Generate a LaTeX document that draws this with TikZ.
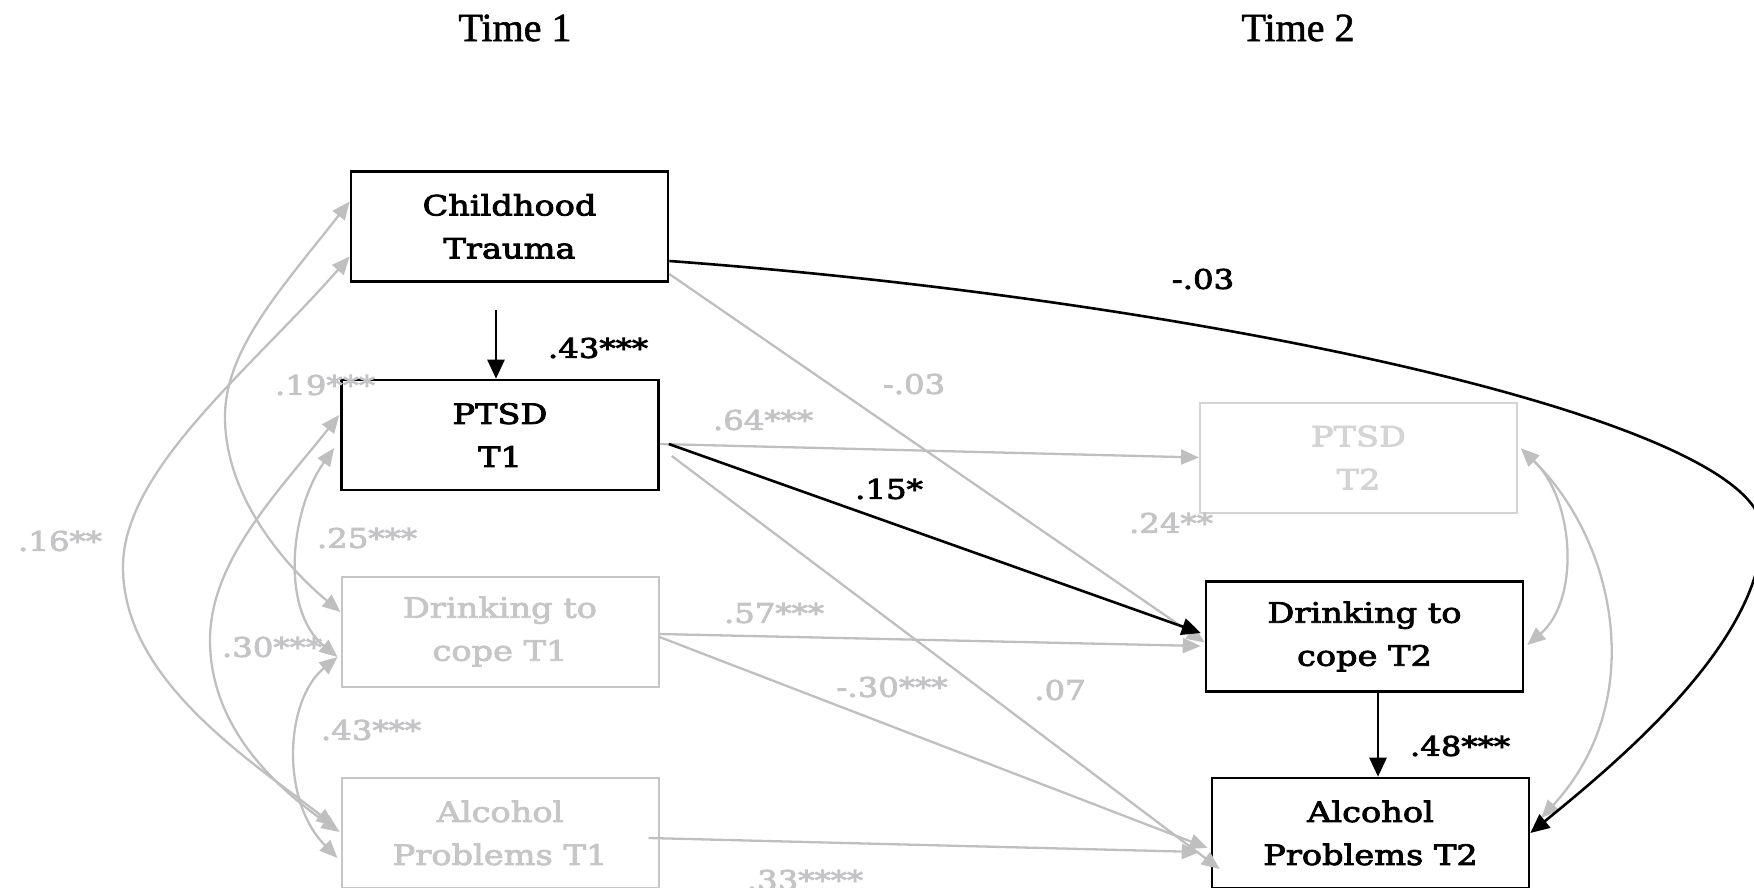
\documentclass[tikz,border=0pt]{standalone}
\usepackage{fontspec}
\setmainfont{DejaVu Serif}[FakeStretch=1.2,FakeBold=3]
\newfontfamily\timesfont{Liberation Serif}[FakeBold=1.5]
\usetikzlibrary{arrows.meta,calc}
\definecolor{lg}{HTML}{BFBFBF}
\definecolor{lgtext}{HTML}{C4C4C6}
\definecolor{lgbox}{HTML}{C6C6C6}
\definecolor{lgbox2}{HTML}{D4D4D4}
\begin{document}
\begin{tikzpicture}[x=1pt,y=-1pt,
  box/.style={draw=black,line width=2.6pt,minimum width=317pt,minimum height=110pt,align=center,font=\fontsize{28}{43}\selectfont,inner sep=0pt},
  gbox/.style={box,draw=lgbox,line width=2pt,text=lgbox},
  lab/.style={font=\fontsize{27}{30}\selectfont,inner sep=0pt},
  glab/.style={lab,text=lgtext},
  blk/.style={draw=black,line width=2.6pt,-{Triangle[length=19pt,width=17pt]}},
  gry/.style={draw=lg,line width=2.3pt,-{Triangle[length=18pt,width=15pt]}},
  gcov/.style={draw=lg,line width=2.3pt,{Triangle[length=18pt,width=15pt]}-{Triangle[length=18pt,width=15pt]}},
  hdr/.style={font={\timesfont\fontsize{40}{44}\selectfont},inner sep=0pt}
]
\useasboundingbox (0,0) rectangle (1754,887);
\clip (0,0) rectangle (1754,887);

\node[hdr] (t1) at (515,28) {Time 1};
\node[hdr] (t2) at (1298,28) {Time 2};

\node[box] (ct) at (509.5,226.5) {Childhood\\Trauma};
\node[box] (p1) at (500,435) {PTSD\\T1};
\node[gbox] (dc1) at (500,631.5) {Drinking to\\cope T1};
\node[gbox] (alc1) at (500,833) {Alcohol\\Problems T1};
\node[gbox,draw=lgbox2,text=lgbox2] (p2) at (1358.5,457.5) {PTSD\\T2};
\node[box] (dc2) at (1364.5,636.5) {Drinking to\\cope T2};
\node[box] (alc2) at (1370.5,833) {Alcohol\\Problems T2};

% grey directed paths
\draw[gry] ([yshift=-47.5pt]ct.east) -- ([yshift=-6pt]dc2.west);
\draw[gry] ([yshift=-9pt]p1.east) -- (p2.west);
\draw[gry] ([xshift=12pt,yshift=-21pt]p1.east) -- ([xshift=9pt,yshift=-36pt]alc2.west);
\draw[gry] ([yshift=-2.5pt]dc1.east) -- ([xshift=-4pt,yshift=-9.5pt]dc2.west);
\draw[gry] ([yshift=-5.5pt]dc1.east) -- ([xshift=-3pt,yshift=-15pt]alc2.west);
\draw[gry] ([xshift=-11pt,yshift=-5pt]alc1.east) -- ([xshift=-11pt,yshift=-19pt]alc2.west);

% covariance end points
\coordinate (ctA) at ([yshift=25pt]ct.west);
\coordinate (ctB) at ([yshift=-30pt]ct.west);
\coordinate (p1A) at ([xshift=-1pt,yshift=20pt]p1.west);
\coordinate (p1B) at ([xshift=-6pt,yshift=-13pt]p1.west);
\coordinate (dc1A) at ([yshift=19.5pt]dc1.west);
\coordinate (dc1B) at ([xshift=-3pt,yshift=-25.5pt]dc1.west);
\coordinate (alc1A) at ([xshift=-6pt,yshift=7pt]alc1.west);
\coordinate (alc1B) at ([xshift=-1pt,yshift=1pt]alc1.west);
\coordinate (alc1C) at ([xshift=-3pt,yshift=-25pt]alc1.west);
\coordinate (p2E) at ([xshift=3pt,yshift=9pt]p2.east);
\coordinate (dc2E) at ([xshift=3pt,yshift=-8.5pt]dc2.east);
\coordinate (alc2E) at ([xshift=11pt,yshift=15pt]alc2.east);

% grey covariances
\draw[gcov] (ctB) .. controls (250,370) and (123,470) .. (123,567) .. controls (123,680) and (250,760) .. (alc1A);
\draw[gcov] (ctA) .. controls (280,290) and (225,350) .. (225,417) .. controls (225,500) and (290,570) .. (dc1A);
\draw[gcov] (p1A) .. controls (280,490) and (210,560) .. (210,640) .. controls (210,730) and (280,790) .. (alc1B);
\draw[gcov] (p1B) .. controls (290,510) and (280,610) .. (dc1B);
\draw[gcov] (dc1B) .. controls (285,700) and (280,800) .. (alc1C);
\draw[gcov] (p2E) .. controls (1575,500) and (1580,600) .. (dc2E);
\draw[gcov] (p2E) .. controls (1615,540) and (1650,700) .. (alc2E);

% black paths
\coordinate (p1top) at ([xshift=-4pt]p1.north);
\draw[blk,shorten <=27pt] (p1top |- ct.south) -- (p1top);
\draw[blk] ([yshift=-34.5pt]ct.east) .. controls (1200,300) and (1760,420) .. (1762,530) .. controls (1764,640) and (1620,760) .. (alc2.east);
\draw[blk] ([xshift=9pt,yshift=-9pt]p1.east) -- ([xshift=-4pt,yshift=3.5pt]dc2.west);
\coordinate (dc2bot) at ([xshift=13.5pt]dc2.south);
\draw[blk] (dc2bot) -- (dc2bot |- alc2.north);

% labels
\node[lab] (l43) at (598,348) {.43***};
\node[lab] (lm03) at (1203,279) {-.03};
\node[lab] (l15) at (889,489) {.15*};
\node[lab] (l48) at (1460,746) {.48***};
\node[glab] (g03) at (914,384) {-.03};
\node[glab] (g64) at (763,420) {.64***};
\node[glab] (g07) at (1060,690) {.07};
\node[glab] (g57) at (774,613) {.57***};
\node[glab] (g30b) at (892,687) {-.30***};
\node[glab] (g33) at (805,880) {.33****};
\node[glab] (g24) at (1171,523) {.24**};
\node[glab] (g19) at (325,385) {.19***};
\node[glab] (g25) at (367,538) {.25***};
\node[glab] (g30) at (272,647) {.30***};
\node[glab] (g43) at (371,730) {.43***};
\node[glab] (g16) at (60,541) {.16**};
\end{tikzpicture}
\end{document}
